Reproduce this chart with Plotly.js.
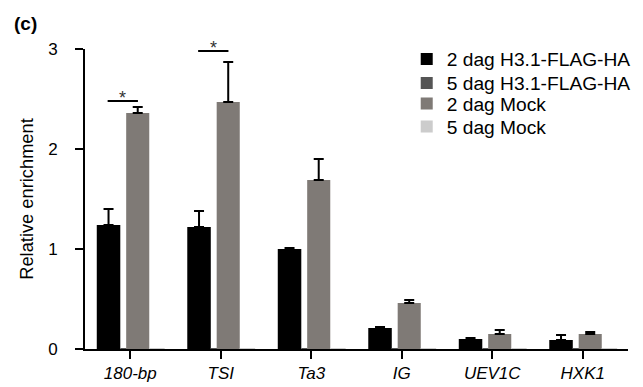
<!DOCTYPE html>
<html>
<head>
<meta charset="utf-8">
<script src="https://cdn.plot.ly/plotly-3.0.1.min.js"></script>
<style>html,body{margin:0;padding:0;background:#fff;}#chart{width:643px;height:387px;}</style>
</head>
<body>
<div id="chart"></div>
<script>
const categories = ['180-bp', 'TSI', 'Ta3', 'IG', 'UEV1C', 'HXK1'];
const seriesNames = ['2 dag H3.1-FLAG-HA', '5 dag H3.1-FLAG-HA', '2 dag Mock', '5 dag Mock'];
const h31Day2 = [1.24, 1.22, 1.00, 0.21, 0.10, 0.09];
const h31Day2Err = [0.16, 0.16, 0.01, 0.01, 0.01, 0.05];
const h31Day5 = [0.01, 0.01, 0.01, 0.01, 0.01, 0.01];
const mockDay2 = [2.36, 2.47, 1.69, 0.46, 0.15, 0.15];
const mockDay2Err = [0.06, 0.40, 0.21, 0.03, 0.04, 0.02];
const mockDay5 = [0.01, 0.01, 0.01, 0.01, 0.01, 0.01];
const sigPairs = [[0, '*'], [1, '*']];
const sigLevel = [2.48, 2.98];

const font = 'Liberation Sans, Arial, sans-serif';
const xs = categories.map((c, i) => i);
function errBar(arr) {
  return {type: 'data', symmetric: false, array: arr, arrayminus: arr.map(() => 0),
          color: '#000', thickness: 2, width: 5, visible: true};
}
const traces = [
  {type: 'bar', name: seriesNames[0], x: xs, y: h31Day2, offset: -0.37, width: 0.26, legend: 'legend',
   marker: {color: '#000000'}, error_y: errBar(h31Day2Err)},
  {type: 'bar', name: seriesNames[1], x: xs, y: h31Day5, offset: -0.11, width: 0.07, legend: 'legend2',
   marker: {color: '#555555'}},
  {type: 'bar', name: seriesNames[2], x: xs, y: mockDay2, offset: -0.045, width: 0.255, legend: 'legend3',
   marker: {color: '#7f7a76'}, error_y: errBar(mockDay2Err)},
  {type: 'bar', name: seriesNames[3], x: xs, y: mockDay5, offset: 0.21, width: 0.17, legend: 'legend4',
   marker: {color: '#cccccc'}}
];

const shapes = [];
const annotations = [{
  text: '<b>(c)</b>', xref: 'paper', yref: 'paper', x: -0.134, y: 1.085,
  xanchor: 'left', yanchor: 'middle', showarrow: false, font: {family: font, size: 19, color: '#000'}
}];
sigPairs.forEach(([i, s], k) => {
  shapes.push({type: 'line', xref: 'x', yref: 'y', x0: i - 0.25, x1: i + 0.085,
               y0: sigLevel[k], y1: sigLevel[k], line: {color: '#000', width: 2}});
  annotations.push({text: s, xref: 'x', yref: 'y', x: i - 0.085, y: sigLevel[k],
                    yanchor: 'bottom', yshift: -9, showarrow: false,
                    font: {family: font, size: 18, color: '#333'}});
});

function legendAt(y) {
  return {x: 0.5925, y: y, xanchor: 'left', yanchor: 'middle', bgcolor: 'rgba(0,0,0,0)',
          font: {family: font, size: 19.2, color: '#000'}, itemwidth: 30};
}
const layout = {
  width: 643, height: 387,
  margin: {l: 85, r: 7, t: 49, b: 38},
  paper_bgcolor: '#fff', plot_bgcolor: '#fff',
  barmode: 'group',
  showlegend: true,
  legend: legendAt(0.967),
  legend2: legendAt(0.887),
  legend3: legendAt(0.818),
  legend4: legendAt(0.742),
  xaxis: {
    range: [-0.5, 5.5], tickmode: 'array', tickvals: xs, ticktext: categories.map(c => '<i>' + c + '</i>'),
    tickson: 'boundaries', ticks: 'outside', ticklen: 8, tickwidth: 2, tickcolor: '#000',
    showline: true, linecolor: '#000', linewidth: 2, showgrid: false, zeroline: false,
    tickfont: {family: font, size: 17, color: '#000'}
  },
  yaxis: {
    range: [0, 3], tickvals: [0, 1, 2, 3], ticks: 'outside', ticklen: 8, tickwidth: 2, tickcolor: '#000',
    showline: true, linecolor: '#000', linewidth: 2, showgrid: false, zeroline: false,
    ticklabelstandoff: 14,
    tickfont: {family: font, size: 17, color: '#000'},
    title: {text: 'Relative enrichment', font: {family: font, size: 18.3, color: '#000'}, standoff: 10}
  },
  shapes: shapes,
  annotations: annotations
};
Plotly.newPlot('chart', traces, layout, {displayModeBar: false, staticPlot: true});
</script>
</body>
</html>
